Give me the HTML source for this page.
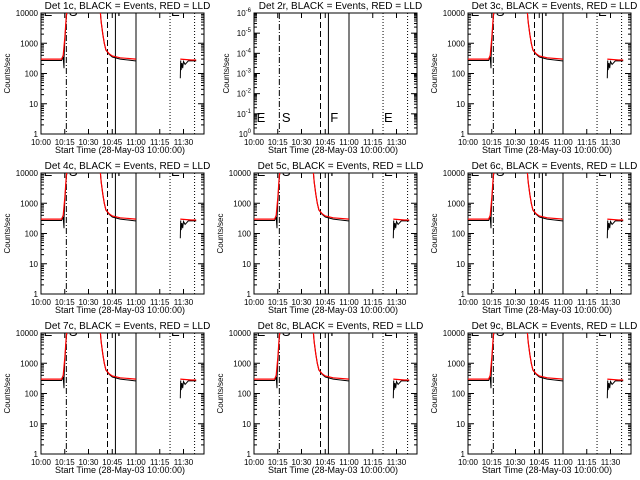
<!DOCTYPE html>
<html><head><meta charset="utf-8">
<style>
html,body{margin:0;padding:0;background:#fff;}
svg{display:block;font-family:"Liberation Sans",sans-serif;}
</style></head>
<body>
<svg id="chart" width="640" height="480" viewBox="0 0 640 480"></svg>
<script>
// ---- data ----
const detectors = ["1c","2r","3c","4c","5c","6c","7c","8c","9c"];
const xTickLabels = ["10:00","10:15","10:30","10:45","11:00","11:15","11:30"];
const xTickMinutes = [0,15,30,45,60,75,90];
const yTickLabelsLog = ["1","10","100","1000","10000"];
const yTickValuesLog = [1,10,100,1000,10000];
const yTickValues2r = [0,-1,-2,-3,-4,-5,-6];
// red (LLD) series: minutes after 10:00, counts/sec (null = gap)
const redTimes = [0,13,14,15,16,17,37,38,39,40,41,43,45,50,60,null,88,95,98];
const redValues = [300,300,400,1500,8000,20000,20000,5000,2000,1000,600,450,380,330,300,null,300,280,280];
// black (Events) series
const blackTimes = [0,13,14,14.5,14.6,15,16,17,37,38,39,40,41,43,45,50,59.5,60,null,88,88.2,88.5,89,89.5,90,91,93,98];
const blackValues = [270,270,350,150,350,1200,7000,20000,20000,5000,2000,1000,600,430,350,300,260,260,null,70,270,130,220,150,250,200,260,260];
// event marker lines (minutes)
const markerMinutes = [16,42,47,60,81.5,97];
const markerDash = ["6,2,1,2","6,3","","","1,2","1,2"];
const letterMinutes = [1,17,47.5,81.5];
const letterText = ["E","S","F","E"];

// ---- layout ----
const svg = document.getElementById('chart');
const NS = "http://www.w3.org/2000/svg";
function mk(tag, attrs, parent){const e=document.createElementNS(NS,tag);for(const k in attrs)e.setAttribute(k,attrs[k]);(parent||svg).appendChild(e);return e;}

const PW = 640/3, PH = 160;
const L = 41, R = 204, T = 13, B = 134;

detectors.forEach((det, i) => {
  const ox = Math.round((i%3)*PW), oy = Math.floor(i/3)*PH;
  const g = mk('g', {transform:`translate(${ox},${oy})`});
  
  
  const is2r = det === "2r";
  const xS = t => L + t*95/60;
  const yS = is2r
    ? (e => B - (-e)*(B-T)/6)
    : (v => B - Math.log10(v)*(B-T)/4);

  const clipId = 'clip'+i;
  const cp = mk('clipPath',{id:clipId},g);
  mk('rect',{x:L,y:T,width:R-L,height:B-T},cp);

  // title
  const title = mk('text',{x:(L+R)/2+5,y:9,'font-size':10,'text-anchor':'middle',fill:'#000'},g);
  title.textContent = `Det ${det}, BLACK = Events, RED = LLD`;
  
  

  // y title
  const yt = mk('text',{x:0,y:0,'font-size':8,'text-anchor':'middle',fill:'#000',transform:`translate(${is2r?16:10},${(T+B)/2}) rotate(-90)`},g);
  yt.textContent = "Counts/sec";
  
  

  // x title
  const xt = mk('text',{x:120,y:153,'font-size':9,'text-anchor':'middle',fill:'#000'},g);
  xt.textContent = "Start Time (28-May-03 10:00:00)";
  
  

  // axes box
  const box = mk('rect',{x:L,y:T,width:R-L,height:B-T,fill:'none',stroke:'#000','stroke-width':1},g);
  
  

  // x ticks
  xTickMinutes.forEach((m,k)=>{
    const x = xS(m);
    mk('line',{x1:x,x2:x,y1:B,y2:B-5,stroke:'#000'},g);
    mk('line',{x1:x,x2:x,y1:T,y2:T+5,stroke:'#000'},g);
    const tl = mk('text',{x:x,y:145,'font-size':8,'text-anchor':'middle',fill:'#000'},g);
    tl.textContent = xTickLabels[k];
    
    
  });

  // y ticks
  if(is2r){
    yTickValues2r.forEach((e,k)=>{
      const y = yS(e);
      mk('line',{x1:L,x2:L+6,y1:y,y2:y,stroke:'#000'},g);
      mk('line',{x1:R,x2:R-6,y1:y,y2:y,stroke:'#000'},g);
      if(k<6){for(let m=2;m<10;m++){const yy=y-Math.log10(m)*(B-T)/6;
        mk('line',{x1:L,x2:L+3,y1:yy,y2:yy,stroke:'#000'},g);
        mk('line',{x1:R,x2:R-3,y1:yy,y2:yy,stroke:'#000'},g);}}
      const tl = mk('text',{x:L-3,y:y+3,'font-size':8,'text-anchor':'end',fill:'#000'},g);
      tl.textContent = "10";
      const sup = mk('tspan',{dy:-4,'font-size':6},tl);
      sup.textContent = e===0?"0":String(e);
      
      
    });
  } else {
    yTickValuesLog.forEach((v,k)=>{
      const y = yS(v);
      mk('line',{x1:L,x2:L+6,y1:y,y2:y,stroke:'#000'},g);
      mk('line',{x1:R,x2:R-6,y1:y,y2:y,stroke:'#000'},g);
      if(k<4){for(let m=2;m<10;m++){const yy=yS(v*m);
        mk('line',{x1:L,x2:L+3,y1:yy,y2:yy,stroke:'#000'},g);
        mk('line',{x1:R,x2:R-3,y1:yy,y2:yy,stroke:'#000'},g);}}
      const tl = mk('text',{x:L-3,y:y+3,'font-size':8,'text-anchor':'end',fill:'#000'},g);
      tl.textContent = yTickLabelsLog[k];
      
      
    });
  }

  const cg = mk('g',{'clip-path':`url(#${clipId})`},g);

  // marker lines
  markerMinutes.forEach((m,k)=>{
    const x = xS(m);
    const ln = mk('line',{x1:x,x2:x,y1:T,y2:B,stroke:'#000','stroke-width':1},cg);
    if(markerDash[k]) ln.setAttribute('stroke-dasharray',markerDash[k]);
    
    
  });
  // letters
  letterMinutes.forEach((m,k)=>{
    const x = xS(m)+1;
    const y = is2r ? yS(-1)+8 : T+3;
    const tx = mk('text',{x:x,y:y,'font-size':13,fill:'#000','font-weight':'normal'},cg);
    tx.textContent = letterText[k];
    
    
  });

  if(!is2r){
    const path = (ts,vs)=>{let d="",pen=false;
      ts.forEach((t,j)=>{if(t===null||vs[j]===null){pen=false;return;}
        d+=(pen?"L":"M")+xS(t).toFixed(1)+","+yS(vs[j]).toFixed(1);pen=true;});return d;};
    const bl = mk('path',{d:path(blackTimes,blackValues),fill:'none',stroke:'#000','stroke-width':1},cg);
    
    
    const rd = mk('path',{d:path(redTimes,redValues),fill:'none',stroke:'#f00','stroke-width':1.2},cg);
    
    
  }
});
</script>
</body></html>
